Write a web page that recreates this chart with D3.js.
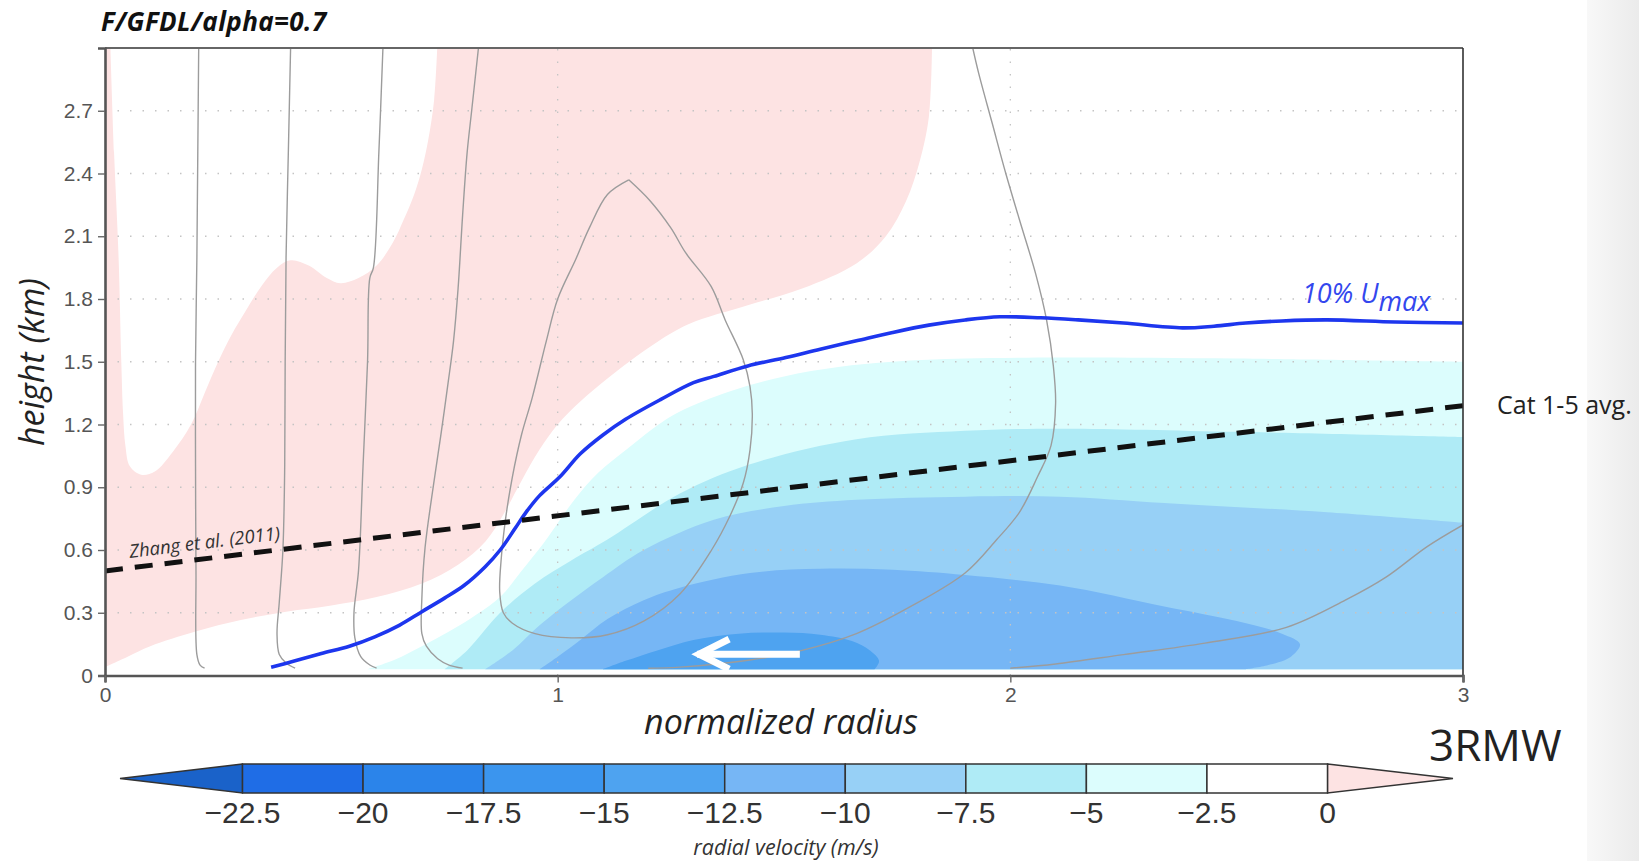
<!DOCTYPE html>
<html>
<head>
<meta charset="utf-8">
<script src="https://cdn.jsdelivr.net/npm/d3@7"></script>
<style>
  html, body { margin: 0; padding: 0; background: #fff; }
  svg { display: block; }
</style>
</head>
<body>
<svg id="chart" width="1639" height="861"></svg>
<script>
// ---------------- axes ----------------
const xTicks = [0, 1, 2, 3];
const yTicks = [0, 0.3, 0.6, 0.9, 1.2, 1.5, 1.8, 2.1, 2.4, 2.7];
const zBase = 0.03;               // lowest model level (km)

// ---------------- colour levels (radial velocity, m/s) ----------------
const levels = [-22.5, -20, -17.5, -15, -12.5, -10, -7.5, -5, -2.5, 0];
const levelLabels = ["\u221222.5", "\u221220", "\u221217.5", "\u221215", "\u221212.5", "\u221210", "\u22127.5", "\u22125", "\u22122.5", "0"];
const levelColors = ["#1a62c9", "#1f6de6", "#2b84ea", "#3b95ee", "#4ea3f0", "#76b6f5", "#97d0f6", "#afebf6", "#dcfdfd", "#ffffff", "#fde3e3"];

// ---------------- filled contour boundaries: [radius/RMW, height km] ----------------
// outflow (> 0) : white tongue cut in from the top-left
const outflowTongue = [[0.012, 3.0], [0.02, 2.5], [0.03, 2.0], [0.036, 1.5], [0.04, 1.25], [0.045, 1.1], [0.055, 1.0], [0.08, 0.96],
  [0.11, 0.975], [0.15, 1.07], [0.19, 1.2], [0.22, 1.35], [0.25, 1.5], [0.28, 1.63], [0.31, 1.74], [0.345, 1.86], [0.38, 1.95],
  [0.41, 1.985], [0.45, 1.96], [0.49, 1.9], [0.52, 1.875], [0.56, 1.9], [0.6, 1.96], [0.636, 2.07], [0.66, 2.18], [0.683, 2.3],
  [0.70, 2.42], [0.714, 2.56], [0.727, 2.75], [0.734, 3.0]];
// outflow (> 0) : lower edge
const outflowLower = [[0, 0.04], [0.05, 0.09], [0.1, 0.14], [0.2, 0.21], [0.3, 0.265], [0.4, 0.305], [0.5, 0.335], [0.6, 0.375],
  [0.7, 0.44], [0.78, 0.53], [0.84, 0.64], [0.88, 0.77], [0.92, 0.93], [0.96, 1.08], [1.0, 1.2], [1.05, 1.31], [1.11, 1.42],
  [1.21, 1.58], [1.29, 1.68], [1.42, 1.77], [1.54, 1.85], [1.66, 1.97], [1.725, 2.1], [1.77, 2.27], [1.80, 2.46], [1.82, 2.67], [1.827, 3.0]];
// -2.5 m/s
const inflow25 = [[0.58, zBase], [0.64, 0.075], [0.7, 0.14], [0.76, 0.21], [0.82, 0.29], [0.875, 0.38], [0.92, 0.5], [0.968, 0.63],
  [1.037, 0.84], [1.09, 0.97], [1.152, 1.08], [1.21, 1.18], [1.268, 1.26], [1.383, 1.36], [1.5, 1.43], [1.62, 1.475], [1.74, 1.5],
  [1.9, 1.515], [2.11, 1.52], [2.5, 1.515], [3.0, 1.50]];
// -5 m/s
const inflow5 = [[0.75, zBase], [0.8, 0.12], [0.873, 0.3], [0.95, 0.44], [1.03, 0.55], [1.11, 0.65], [1.27, 0.87], [1.425, 1.01],
  [1.66, 1.13], [1.9, 1.17], [2.11, 1.18], [2.5, 1.165], [3.0, 1.14]];
// -7.5 m/s
const inflow75 = [[0.84, zBase], [0.9, 0.12], [0.96, 0.24], [1.03, 0.36], [1.1, 0.47], [1.19, 0.6], [1.345, 0.745], [1.5, 0.81],
  [1.66, 0.84], [1.9, 0.855], [2.11, 0.855], [2.34, 0.825], [2.7, 0.78], [3.0, 0.73]];
// -10 m/s (closed on the surface)
const inflow10 = [[0.96, zBase], [1.0, 0.09], [1.05, 0.17], [1.11, 0.27], [1.19, 0.36], [1.27, 0.42], [1.425, 0.49], [1.58, 0.51],
  [1.74, 0.505], [1.9, 0.48], [2.11, 0.43], [2.34, 0.33], [2.5, 0.26], [2.6, 0.2], [2.64, 0.15], [2.62, 0.09], [2.57, 0.05], [2.52, zBase]];
// -12.5 m/s (closed on the surface)
const inflow125 = [[1.1, zBase], [1.15, 0.07], [1.22, 0.12], [1.3, 0.17], [1.4, 0.2], [1.5, 0.205], [1.58, 0.195], [1.65, 0.165],
  [1.69, 0.12], [1.71, 0.07], [1.70, zBase]];

// ---------------- tangential wind isolines (grey) ----------------
const isolines = [
  [[0.207, 3.0], [0.205, 2.5], [0.203, 2.0], [0.2, 1.5], [0.2, 1.0], [0.201, 0.5], [0.203, 0.1], [0.21, 0.05], [0.22, 0.035]],
  [[0.41, 3.0], [0.405, 2.5], [0.40, 2.0], [0.398, 1.5], [0.397, 1.0], [0.393, 0.6], [0.385, 0.35], [0.38, 0.2], [0.385, 0.1], [0.4, 0.06], [0.42, 0.035]],
  [[0.614, 3.0], [0.605, 2.5], [0.593, 1.95], [0.585, 1.9], [0.58, 1.5], [0.57, 1.0], [0.56, 0.5], [0.55, 0.3], [0.552, 0.18], [0.565, 0.09], [0.585, 0.05], [0.6, 0.035]],
  [[0.825, 3.0], [0.81, 2.7], [0.80, 2.5], [0.79, 2.2], [0.78, 1.85], [0.77, 1.6], [0.758, 1.4], [0.742, 1.15], [0.727, 0.93], [0.707, 0.61],
   [0.70, 0.37], [0.70, 0.2], [0.71, 0.14], [0.735, 0.08], [0.76, 0.05], [0.79, 0.035]],
  [[1.157, 2.37], [1.11, 2.3], [1.07, 2.14], [1.04, 1.99], [1.0, 1.8], [0.975, 1.6], [0.944, 1.33], [0.92, 1.15], [0.9, 0.95], [0.885, 0.75],
   [0.875, 0.55], [0.872, 0.4], [0.88, 0.3], [0.9, 0.25], [0.95, 0.2], [1.03, 0.18], [1.11, 0.195], [1.19, 0.26], [1.27, 0.39], [1.34, 0.6],
   [1.38, 0.76], [1.41, 0.92], [1.425, 1.08], [1.43, 1.25], [1.425, 1.38], [1.41, 1.51], [1.37, 1.70], [1.339, 1.86], [1.283, 2.02],
   [1.25, 2.14], [1.204, 2.27], [1.157, 2.37]],
  [[1.917, 3.0], [1.93, 2.88], [1.96, 2.64], [1.99, 2.4], [2.02, 2.18], [2.056, 1.92], [2.08, 1.7], [2.095, 1.48], [2.1, 1.3], [2.09, 1.1],
   [2.06, 0.95], [2.02, 0.78], [1.97, 0.65], [1.9, 0.49], [1.78, 0.33], [1.66, 0.2], [1.54, 0.12], [1.425, 0.074], [1.27, 0.04], [1.2, 0.035]],
  [[2.0, 0.035], [2.1, 0.055], [2.25, 0.1], [2.43, 0.155], [2.61, 0.23], [2.74, 0.36], [2.83, 0.47], [2.92, 0.615], [3.0, 0.72]]
];

// ---------------- 10% Umax inflow-layer depth ----------------
const umaxDepth = [[0.367, 0.04], [0.42, 0.07], [0.478, 0.105], [0.54, 0.14], [0.596, 0.185], [0.65, 0.24], [0.70, 0.305], [0.75, 0.37],
  [0.793, 0.43], [0.84, 0.52], [0.873, 0.6], [0.905, 0.7], [0.93, 0.78], [0.96, 0.86], [1.005, 0.95], [1.05, 1.06], [1.10, 1.15],
  [1.15, 1.225], [1.228, 1.32], [1.3, 1.40], [1.345, 1.43], [1.42, 1.48], [1.504, 1.52], [1.58, 1.56], [1.66, 1.60], [1.74, 1.64],
  [1.82, 1.675], [1.9, 1.70], [1.977, 1.715], [2.067, 1.71], [2.15, 1.70], [2.25, 1.685], [2.38, 1.662], [2.45, 1.67], [2.52, 1.685],
  [2.6, 1.695], [2.70, 1.70], [2.85, 1.69], [3.0, 1.685]];

// Zhang et al. (2011) composite inflow depth (Cat 1-5 avg.)
const zhangDepth = [[0, 0.50], [3, 1.29]];
// inward-pointing flow arrow
const flowArrow = [[1.535, 0.102], [1.308, 0.102]];

// ---------------- drawing ----------------
const svg = d3.select("#chart");
const x = d3.scaleLinear().domain([0, 3]).range([105, 1463]);
const y = d3.scaleLinear().domain([0, 3]).range([675.5, 48]);

const smooth = d3.line().x(d => x(d[0])).y(d => y(d[1])).curve(d3.curveCatmullRom.alpha(0.5));
const straight = d3.line().x(d => x(d[0])).y(d => y(d[1]));
const P = d => x(d[0]) + "," + y(d[1]);
const part = (pts, first) => { const s = smooth(pts); return first ? s : "L" + s.slice(1); };

// slide background strip on the far right
const defs = svg.append("defs");
const grad = defs.append("linearGradient").attr("id", "sideGrad").attr("x1", "0").attr("x2", "1");
grad.append("stop").attr("offset", "0").attr("stop-color", "#f8f8f8");
grad.append("stop").attr("offset", "1").attr("stop-color", "#ebebeb");
svg.append("rect").attr("x", 1587).attr("y", 0).attr("width", 52).attr("height", 861).attr("fill", "url(#sideGrad)");

defs.append("clipPath").attr("id", "plotClip").append("rect")
  .attr("x", x(0)).attr("y", y(3)).attr("width", x(3) - x(0)).attr("height", y(0) - y(3));

const plot = svg.append("g").attr("clip-path", "url(#plotClip)");

// outflow region
const outflowPath = "M" + P([0, 3]) + part(outflowTongue, false) + "L" + P([1.827, 3]) +
  part(outflowLower.slice().reverse(), false) + "Z";
plot.append("path").attr("d", outflowPath).attr("fill", levelColors[10]);

// inflow bands, painted outermost first
const openBands = [[inflow25, levelColors[8]], [inflow5, levelColors[7]], [inflow75, levelColors[6]]];
openBands.forEach(([pts, col]) => {
  const d = part(pts, true) + "L" + P([3, zBase]) + "L" + P([pts[0][0], zBase]) + "Z";
  plot.append("path").attr("d", d).attr("fill", col);
});
[[inflow10, levelColors[5]], [inflow125, levelColors[4]]].forEach(([pts, col]) => {
  plot.append("path").attr("d", part(pts, true) + "Z").attr("fill", col);
});

// dotted grid
yTicks.filter(v => v > 0).forEach(v => {
  plot.append("line").attr("x1", x(0)).attr("x2", x(3)).attr("y1", y(v)).attr("y2", y(v))
    .attr("stroke", "#c4c4c4").attr("stroke-width", 1.3).attr("stroke-dasharray", "1.5,11");
});
xTicks.filter(v => v > 0 && v < 3).forEach(v => {
  plot.append("line").attr("x1", x(v)).attr("x2", x(v)).attr("y1", y(0)).attr("y2", y(3))
    .attr("stroke", "#c4c4c4").attr("stroke-width", 1.3).attr("stroke-dasharray", "1.5,11");
});

// grey isolines
isolines.forEach(pts => {
  plot.append("path").attr("d", smooth(pts)).attr("fill", "none")
    .attr("stroke", "#9c9c9c").attr("stroke-width", 1.4);
});

// 10% Umax line
plot.append("path").attr("d", smooth(umaxDepth)).attr("fill", "none")
  .attr("stroke", "#1d36ee").attr("stroke-width", 3.6).attr("stroke-linejoin", "round");

// Zhang et al. dashed line
plot.append("path").attr("d", straight(zhangDepth)).attr("fill", "none")
  .attr("stroke", "#111").attr("stroke-width", 5).attr("stroke-dasharray", "18,12");

// white flow arrow
plot.append("path").attr("d", straight(flowArrow)).attr("stroke", "#fff").attr("stroke-width", 7).attr("fill", "none");
const tip = flowArrow[1];
plot.append("path")
  .attr("d", `M${x(tip[0]) + 32},${y(tip[1]) - 15}L${x(tip[0]) + 2},${y(tip[1])}L${x(tip[0]) + 32},${y(tip[1]) + 15}`)
  .attr("stroke", "#fff").attr("stroke-width", 7).attr("fill", "none").attr("stroke-linejoin", "miter");

// frame
const frame = svg.append("g");
frame.append("line").attr("x1", x(0)).attr("x2", x(3)).attr("y1", y(3)).attr("y2", y(3)).attr("stroke", "#666").attr("stroke-width", 2.2);
frame.append("line").attr("x1", x(3)).attr("x2", x(3)).attr("y1", y(3)).attr("y2", y(0)).attr("stroke", "#333").attr("stroke-width", 1.6);

// axes
const fmt = d => d === 0 ? "0" : d3.format(".1f")(d);
const yAxis = svg.append("g").attr("transform", `translate(${x(0)},0)`)
  .call(d3.axisLeft(y).tickValues(yTicks).tickFormat(fmt).tickSize(7).tickPadding(5));
const xAxis = svg.append("g").attr("transform", `translate(0,${y(0)})`)
  .call(d3.axisBottom(x).tickValues(xTicks).tickFormat(d3.format("d")).tickSize(7).tickPadding(5));
[yAxis, xAxis].forEach(g => {
  g.select(".domain").attr("stroke", "#555").attr("stroke-width", 2.6);
  g.selectAll(".tick line").attr("stroke", "#666").attr("stroke-width", 1.4);
  g.selectAll(".tick text").attr("fill", "#555").attr("font-family", "'Liberation Sans', Arial, sans-serif").attr("font-size", 21);
});

// titles
const sans = "'Open Sans', 'Noto Sans', sans-serif";
svg.append("text").attr("x", 101).attr("y", 31).text("F/GFDL/alpha=0.7")
  .attr("font-family", sans).attr("font-style", "italic").attr("font-weight", "bold").attr("font-size", 26)
  .attr("letter-spacing", 0.4).attr("fill", "#111");
svg.append("text").attr("transform", "translate(44,362) rotate(-90)").attr("text-anchor", "middle")
  .text("height (km)").attr("font-family", sans).attr("font-style", "italic").attr("font-size", 34).attr("fill", "#222");
svg.append("text").attr("x", 781).attr("y", 734).attr("text-anchor", "middle").text("normalized radius")
  .attr("font-family", sans).attr("font-style", "italic").attr("font-size", 34).attr("fill", "#222");

// line annotations
const ang = Math.atan2(y(zhangDepth[1][1]) - y(zhangDepth[0][1]), x(zhangDepth[1][0]) - x(zhangDepth[0][0])) * 180 / Math.PI;
const zr = 0.055, zz = zhangDepth[0][1] + (zhangDepth[1][1] - zhangDepth[0][1]) * zr / 3;
svg.append("text").attr("transform", `translate(${x(zr)},${y(zz) - 10}) rotate(${ang})`)
  .text("Zhang et al. (2011)").attr("font-family", sans).attr("font-style", "italic").attr("font-size", 18.5).attr("fill", "#333");

const um = svg.append("text").attr("x", 1302).attr("y", 303).attr("font-family", sans).attr("font-style", "italic")
  .attr("font-size", 27).attr("fill", "#3347ee");
um.append("tspan").text("10% U");
um.append("tspan").attr("dy", 8).text("max");

svg.append("text").attr("x", 1497).attr("y", 414).text("Cat 1-5 avg.")
  .attr("font-family", sans).attr("font-size", 25).attr("fill", "#222");
svg.append("text").attr("x", 1429).attr("y", 761).text("3RMW")
  .attr("font-family", sans).attr("font-size", 44).attr("fill", "#222");

// colour bar
const cx = d3.scaleLinear().domain([levels[0], levels[levels.length - 1]]).range([242.5, 1327.5]);
const cbTop = 764, cbBot = 793, cbMid = (cbTop + cbBot) / 2;
const cb = svg.append("g");
cb.append("path").attr("d", `M${cx(levels[0])},${cbTop}L120,${cbMid}L${cx(levels[0])},${cbBot}Z`)
  .attr("fill", levelColors[0]).attr("stroke", "#333").attr("stroke-width", 1.3);
cb.append("path").attr("d", `M${cx(0)},${cbTop}L1453,${cbMid}L${cx(0)},${cbBot}Z`)
  .attr("fill", levelColors[10]).attr("stroke", "#333").attr("stroke-width", 1.3);
levels.slice(0, -1).forEach((lv, i) => {
  cb.append("rect").attr("x", cx(lv)).attr("y", cbTop).attr("width", cx(levels[i + 1]) - cx(lv)).attr("height", cbBot - cbTop)
    .attr("fill", levelColors[i + 1]).attr("stroke", "#333").attr("stroke-width", 1.5);
});
levels.forEach((lv, i) => {
  cb.append("text").attr("x", cx(lv)).attr("y", 823).attr("text-anchor", "middle").text(levelLabels[i])
    .attr("font-family", "'Liberation Sans', Arial, sans-serif").attr("font-size", 30).attr("fill", "#333");
});
svg.append("text").attr("x", 786).attr("y", 855).attr("text-anchor", "middle").text("radial velocity (m/s)")
  .attr("font-family", sans).attr("font-style", "italic").attr("font-size", 21.5).attr("fill", "#333");
</script>
</body>
</html>
